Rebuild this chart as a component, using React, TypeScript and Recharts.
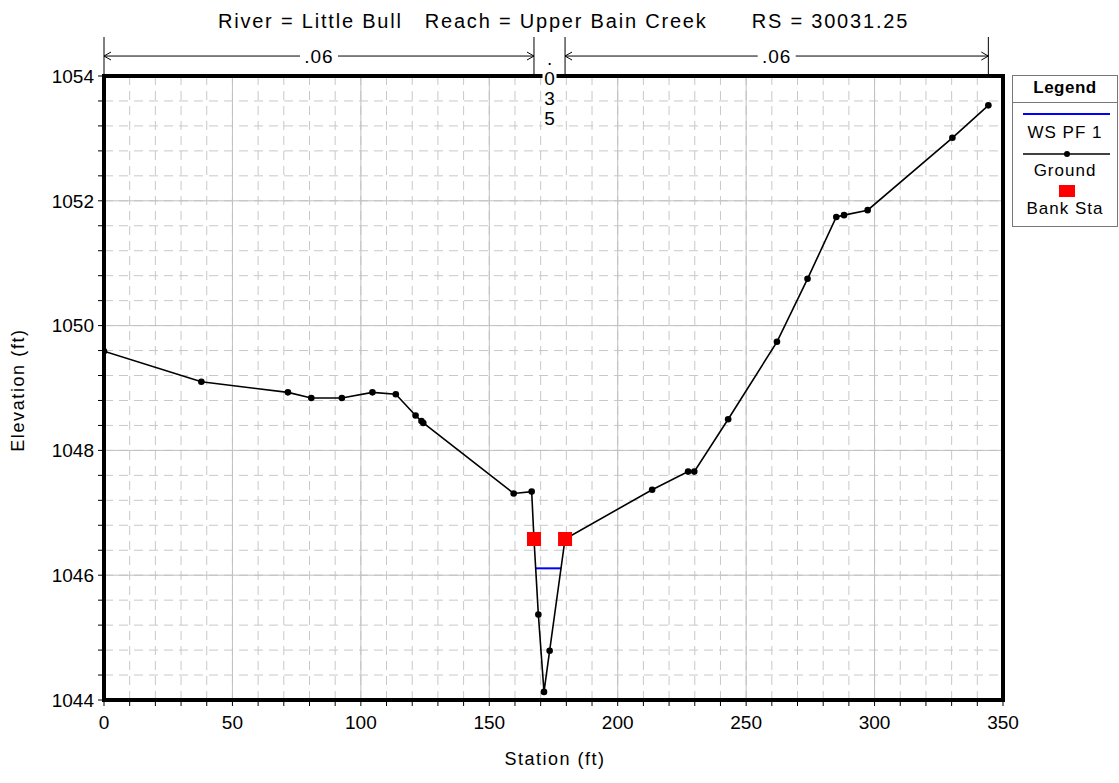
import React from 'react';
import {
  ComposedChart,
  Line,
  Scatter,
  XAxis,
  YAxis,
  CartesianGrid,
  ReferenceArea,
  ReferenceLine,
} from 'recharts';

// Ground profile
const groundStations = [
  0, 37.9, 71.6, 80.7, 92.6, 104.5, 113.6, 121.3, 123.6, 124.3, 159.5, 166.5,
  167.4, 169.1, 171.3, 173.5, 179.5, 213.4, 227.4, 229.8, 243.0, 262.0, 273.9,
  285.1, 288.1, 297.3, 330.3, 344.3,
];
const groundElevations = [
  1049.59, 1049.1, 1048.93, 1048.84, 1048.84, 1048.93, 1048.9, 1048.56, 1048.47,
  1048.44, 1047.31, 1047.34, 1046.58, 1045.37, 1044.13, 1044.79, 1046.58,
  1047.37, 1047.66, 1047.66, 1048.5, 1049.74, 1050.75, 1051.74, 1051.77,
  1051.85, 1053.01, 1053.53,
];

// water surface PF 1
const wsStations = [168.1, 178.0];
const wsElevations = [1046.11, 1046.11];

// bank stations
const bankStations = [167.4, 179.5];
const bankElevations = [1046.58, 1046.58];

// manning's n regions
const nBreaks = [0, 167.4, 179.5, 344.3];
const nLabels = ['.06', '.035', '.06'];
const N_ARROW_Y = 1054.32;
const N_TOP_Y = 1054.625;

const xTicks = [
  0, 10, 20, 30, 40, 50, 60, 70, 80, 90, 100, 110, 120, 130, 140, 150, 160, 170,
  180, 190, 200, 210, 220, 230, 240, 250, 260, 270, 280, 290, 300, 310, 320, 330,
  340, 350,
];
const xMajor = [0, 50, 100, 150, 200, 250, 300, 350];
const yTicks = [
  1044, 1044.4, 1044.8, 1045.2, 1045.6, 1046, 1046.4, 1046.8, 1047.2, 1047.6,
  1048, 1048.4, 1048.8, 1049.2, 1049.6, 1050, 1050.4, 1050.8, 1051.2, 1051.6,
  1052, 1052.4, 1052.8, 1053.2, 1053.6, 1054,
];
const yMajor = [1044, 1046, 1048, 1050, 1052, 1054];

const groundData = groundStations.map((x, i) => ({ x, y: groundElevations[i] }));
const wsData = wsStations.map((x, i) => ({ x, y: wsElevations[i] }));
const bankData = bankStations.map((x, i) => ({ x, y: bankElevations[i] }));

const FONT = "'Liberation Sans', Arial, sans-serif";

const nShape = (label: string) => (p: any) => {
  const { x1, x2, y1 } = p;
  const cx = (x1 + x2) / 2;
  if (x2 - x1 < 60) {
    // narrow region: stack the characters vertically
    const chars = label.split('');
    return (
      <g>
        <rect x={cx - 7} y={y1 + 11} width={14} height={62} fill="#fff" />
        {chars.map((c, i) => (
          <text
            key={i}
            x={cx}
            y={y1 + 2 + i * 20 + 7}
            textAnchor="middle"
            fontSize={19}
            fontFamily={FONT}
            fill="#000"
          >
            {c}
          </text>
        ))}
      </g>
    );
  }
  return (
    <g>
      <line x1={x1} y1={y1} x2={x2} y2={y1} stroke="#000" strokeWidth={1} />
      <path
        d={`M${x1 + 7},${y1 - 4} L${x1},${y1} L${x1 + 7},${y1 + 4}`}
        stroke="#000"
        fill="none"
      />
      <path
        d={`M${x2 - 7},${y1 - 4} L${x2},${y1} L${x2 - 7},${y1 + 4}`}
        stroke="#000"
        fill="none"
      />
      <rect x={cx - 19} y={y1 - 10} width={38} height={20} fill="#fff" />
      <text
        x={cx}
        y={y1 + 7}
        textAnchor="middle"
        fontSize={19}
        fontFamily={FONT}
        fill="#000"
        letterSpacing={1}
      >
        {label}
      </text>
    </g>
  );
};

const BankSquare = (p: any) => (
  <rect x={p.cx - 7} y={p.cy - 7} width={14} height={14} fill="#ff0000" />
);

const legendText = (top: number, text: string, bold = false) => (
  <div
    style={{
      position: 'absolute',
      left: 0,
      width: '100%',
      top: top - 10,
      height: 20,
      lineHeight: '20px',
      textAlign: 'center',
      fontWeight: bold ? 'bold' : 'normal',
      letterSpacing: bold ? 0.5 : 1,
      whiteSpace: 'pre',
    }}
  >
    {text}
  </div>
);

export default function App() {
  return (
    <div
      style={{
        position: 'absolute',
        left: 0,
        top: 0,
        width: 1119,
        height: 783,
        background: '#fff',
        fontFamily: FONT,
      }}
    >
      <div
        style={{
          position: 'absolute',
          top: 10,
          left: 0,
          width: 1127,
          textAlign: 'center',
          fontSize: 20,
          letterSpacing: 1.8,
          whiteSpace: 'pre',
          color: '#000',
        }}
      >
        {'River = Little Bull   Reach = Upper Bain Creek      RS = 30031.25'}
      </div>

      <ComposedChart
        width={1119}
        height={783}
        margin={{ top: 76, right: 116, bottom: 43, left: 44 }}
      >
        <CartesianGrid
          stroke="#c8c8c8"
          strokeDasharray="9 6"
          strokeWidth={1}
        />
        <CartesianGrid
          stroke="#c0c0c0"
          strokeWidth={1}
          horizontalValues={yMajor}
          verticalValues={xMajor}
        />
        <XAxis
          type="number"
          dataKey="x"
          domain={[0, 350]}
          ticks={xTicks}
          interval={0}
          allowDataOverflow
          height={40}
          axisLine={false}
          tickLine={{ stroke: '#000' }}
          tickSize={6}
          tickMargin={10}
          tick={{ fill: '#000', fontSize: 19, fontFamily: FONT }}
          tickFormatter={(v: number) => (v % 50 === 0 ? String(v) : '')}
        />
        <YAxis
          type="number"
          dataKey="y"
          domain={[1044, 1054]}
          ticks={yTicks}
          interval={0}
          allowDataOverflow
          width={60}
          axisLine={false}
          tickLine={{ stroke: '#000' }}
          tickSize={6}
          tickMargin={4}
          tick={{ fill: '#000', fontSize: 19, fontFamily: FONT }}
          tickFormatter={(v: number) => (v % 2 === 0 ? String(v) : '')}
        />

        <ReferenceArea
          x1={0}
          x2={350}
          y1={1044}
          y2={1054}
          fill="none"
          stroke="#000"
          strokeWidth={4}
          ifOverflow="visible"
        />

        {nBreaks.map((b) => (
          <ReferenceLine
            key={'b' + b}
            segment={[
              { x: b, y: 1054 },
              { x: b, y: N_TOP_Y },
            ]}
            stroke="#000"
            strokeWidth={1}
            ifOverflow="visible"
          />
        ))}
        {nLabels.map((lab, i) => (
          <ReferenceLine
            key={'n' + i}
            segment={[
              { x: nBreaks[i], y: N_ARROW_Y },
              { x: nBreaks[i + 1], y: N_ARROW_Y },
            ]}
            ifOverflow="visible"
            shape={nShape(lab)}
          />
        ))}

        <Line
          data={wsData}
          dataKey="y"
          stroke="#0000ff"
          strokeWidth={2}
          dot={false}
          isAnimationActive={false}
        />
        <Line
          data={groundData}
          dataKey="y"
          stroke="#000"
          strokeWidth={1.6}
          dot={{ r: 3.3, fill: '#000', stroke: '#000', strokeWidth: 0 }}
          isAnimationActive={false}
        />
        <Scatter
          data={bankData}
          dataKey="y"
          shape={BankSquare}
          isAnimationActive={false}
        />
      </ComposedChart>

      <div
        style={{
          position: 'absolute',
          left: -82,
          top: 380,
          width: 200,
          height: 20,
          lineHeight: '20px',
          textAlign: 'center',
          transform: 'rotate(-90deg)',
          transformOrigin: '100px 10px',
          whiteSpace: 'pre',
          fontSize: 18,
          letterSpacing: 1.6,
        }}
      >
        Elevation (ft)
      </div>
      <div
        style={{
          position: 'absolute',
          left: 455,
          top: 749,
          width: 200,
          textAlign: 'center',
          fontSize: 18,
          letterSpacing: 1.5,
        }}
      >
        Station (ft)
      </div>

      <div
        style={{
          position: 'absolute',
          left: 1012,
          top: 75,
          width: 106,
          height: 152,
          border: '1px solid #777',
          boxSizing: 'border-box',
          fontSize: 17,
        }}
      >
        {legendText(12, 'Legend', true)}
        <div
          style={{
            position: 'absolute',
            left: 0,
            top: 26,
            width: '100%',
            height: 0,
            borderTop: '1px solid #777',
          }}
        />
        <svg
          width={104}
          height={110}
          style={{ position: 'absolute', left: 0, top: 30 }}
        >
          <line x1={10} y1={8} x2={97} y2={8} stroke="#0000ff" strokeWidth={2} />
          <line x1={10} y1={48} x2={97} y2={48} stroke="#000" strokeWidth={1.5} />
          <circle cx={54} cy={48} r={3} fill="#000" />
          <rect x={46} y={79} width={16} height={12} fill="#ff0000" />
        </svg>
        {legendText(57, 'WS PF 1')}
        {legendText(95, 'Ground')}
        {legendText(133, 'Bank Sta')}
      </div>
    </div>
  );
}
